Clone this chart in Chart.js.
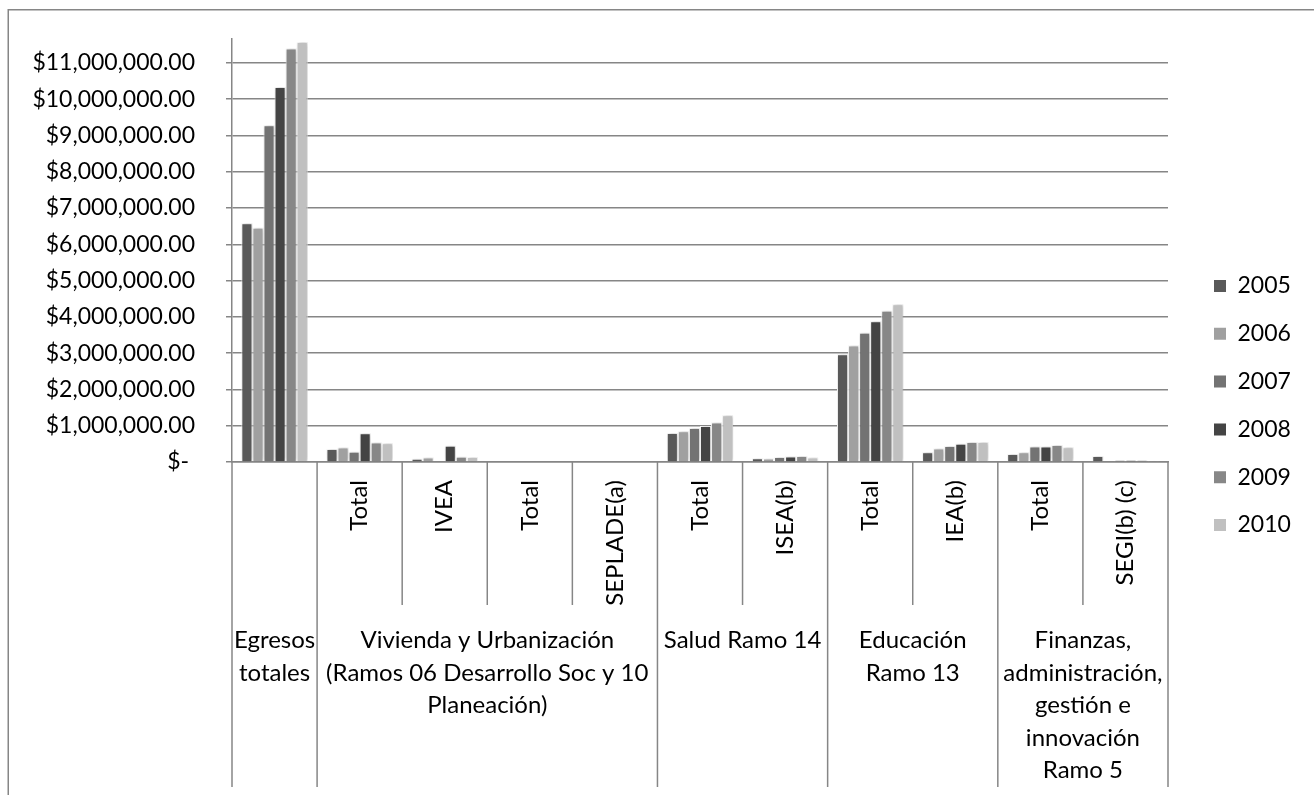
<!DOCTYPE html>
<html lang="es">
<head>
<meta charset="utf-8">
<title>Egresos por ramo, 2005–2010</title>
<script src="https://cdn.jsdelivr.net/npm/chart.js@4.4.1/dist/chart.umd.min.js"></script>
<style>
  html, body { margin: 0; padding: 0; background: #fff; }
  canvas { display: block; }
</style>
</head>
<body>
<canvas id="chart" width="1314" height="795"></canvas>
<script>
// Second-level labels: one per cluster of bars
const subLabels = ['', 'Total', 'IVEA', 'Total', 'SEPLADE(a)', 'Total', 'ISEA(b)', 'Total', 'IEA(b)', 'Total', 'SEGI(b) (c)'];

// Top-level groups (text lines) and how many clusters each one covers
const groupNames = [
  ['Egresos', 'totales'],
  ['Vivienda y Urbanización', '(Ramos 06 Desarrollo Soc y 10', 'Planeación)'],
  ['Salud Ramo 14'],
  ['Educación', 'Ramo 13'],
  ['Finanzas,', 'administración,', 'gestión e', 'innovación', 'Ramo 5']
];
const groupSpans = [1, 4, 2, 2, 2];

// Series (pesos)
const years = ['2005', '2006', '2007', '2008', '2009', '2010'];
const egresos2005 = [6580000, 356000, 88000, null, null, 800000, 100000, 2970000, 270000, 220000, 163000];
const egresos2006 = [6460000, 400000, 127000, null, null, 850000, 95000, 3210000, 370000, 270000, 20000];
const egresos2007 = [9280000, 280000, null, null, null, 940000, 135000, 3560000, 440000, 430000, 45000];
const egresos2008 = [10340000, 790000, 447000, null, null, 990000, 155000, 3880000, 500000, 430000, 45000];
const egresos2009 = [11400000, 540000, 144000, null, null, 1090000, 163000, 4170000, 550000, 470000, 45000];
const egresos2010 = [11580000, 520000, 135000, null, null, 1290000, 127000, 4350000, 550000, 410000, 35000];
const seriesValues = [egresos2005, egresos2006, egresos2007, egresos2008, egresos2009, egresos2010];
const seriesColors = ['#595959', '#a0a0a0', '#737373', '#444444', '#878787', '#c0c0c0'];

// Value axis ticks
const yTickValues = [0, 1000000, 2000000, 3000000, 4000000, 5000000, 6000000, 7000000, 8000000, 9000000, 10000000, 11000000];
const yTickLabels = ['$- ', '$1,000,000.00', '$2,000,000.00', '$3,000,000.00', '$4,000,000.00', '$5,000,000.00',
  '$6,000,000.00', '$7,000,000.00', '$8,000,000.00', '$9,000,000.00', '$10,000,000.00', '$11,000,000.00'];
const yAxisMax = 11660000;

const FONT = 'Lato';
const TICK_SIZE = 23;
const CAT_SIZE = 24;
const LEGEND_SIZE = 23;
const LEGEND_PITCH = 47.8;
const LEGEND_BOX = 12;
const LINE_GRAY = '#868686';

// Legend placement: boxes start at x = 1214, plot area ends at x = 1168
const PLOT_RIGHT = 1168;
const LEGEND_BOX_X = 1214;
const legendPad = LEGEND_PITCH - LEGEND_SIZE;
const measureCtx = document.createElement('canvas').getContext('2d');
measureCtx.font = LEGEND_SIZE + 'px ' + FONT;
const legendTextW = Math.max(...years.map(y => measureCtx.measureText(y).width));
// a vertical legend adds 10px to the width of its column
const legendWidth = legendPad + LEGEND_BOX + LEGEND_SIZE / 2 + legendTextW + 10;
const legendLeft = LEGEND_BOX_X - legendPad;
const rightPad = 1314 - legendLeft - legendWidth;
const gapWidth = legendLeft - PLOT_RIGHT;

// Frame around the chart, separators and two-level labels of the category axis
const categoryAxisPlugin = {
  id: 'categoryAxis',
  beforeDraw(chart) {
    const ctx = chart.ctx;
    ctx.save();
    ctx.strokeStyle = LINE_GRAY;
    ctx.lineWidth = 1.5;
    ctx.strokeRect(8.25, 9.75, 2000, 2000);
    ctx.restore();
  },
  beforeDatasetsDraw(chart) {
    const ctx = chart.ctx;
    ctx.save();
    ctx.shadowColor = 'rgba(0,0,0,0.28)';
    ctx.shadowBlur = 4;
    ctx.shadowOffsetX = 1;
    ctx.shadowOffsetY = 0;
  },
  afterDatasetsDraw(chart) {
    chart.ctx.restore();
  },
  afterDraw(chart) {
    const { ctx, chartArea, scales: { x } } = chart;
    const step = x.getPixelForValue(1) - x.getPixelForValue(0);
    const top = chartArea.bottom;
    const subBottom = top + 143;
    const groupBottom = top + 325;

    const groupEdges = new Set([0]);
    let acc = 0;
    groupSpans.forEach(s => { acc += s; groupEdges.add(acc); });

    ctx.save();
    ctx.strokeStyle = LINE_GRAY;
    ctx.lineWidth = 1.5;
    for (let i = 0; i <= subLabels.length; i++) {
      const px = x.getPixelForValue(0) - step / 2 + i * step;
      const bottom = groupEdges.has(i) ? groupBottom : subBottom;
      ctx.beginPath();
      ctx.moveTo(px, top);
      ctx.lineTo(px, bottom);
      ctx.stroke();
    }

    ctx.fillStyle = '#000';
    ctx.font = CAT_SIZE + 'px ' + FONT;
    subLabels.forEach((t, i) => {
      if (!t) return;
      ctx.save();
      ctx.translate(x.getPixelForValue(i), top + 18);
      ctx.rotate(-Math.PI / 2);
      ctx.textAlign = 'right';
      ctx.textBaseline = 'middle';
      ctx.fillText(t, 0, 0);
      ctx.restore();
    });

    let start = 0;
    groupNames.forEach((lines, g) => {
      const end = start + groupSpans[g] - 1;
      const cx = (x.getPixelForValue(start) + x.getPixelForValue(end)) / 2;
      ctx.textAlign = 'center';
      ctx.textBaseline = 'alphabetic';
      lines.forEach((l, k) => ctx.fillText(l, cx, top + 186 + k * 32.6));
      start += groupSpans[g];
    });
    ctx.restore();
  }
};

const datasets = years.map((yr, i) => ({
  label: yr,
  data: seriesValues[i],
  backgroundColor: seriesColors[i],
  borderColor: '#ffffff',
  borderWidth: 1,
  barPercentage: 1,
  categoryPercentage: 0.78
}));

new Chart(document.getElementById('chart'), {
  type: 'bar',
  data: { labels: subLabels, datasets },
  plugins: [categoryAxisPlugin],
  options: {
    responsive: false,
    animation: false,
    devicePixelRatio: 1,
    layout: { padding: { top: 39, left: 0, right: rightPad, bottom: 23 } },
    plugins: {
      tooltip: { enabled: false },
      legend: {
        position: 'right',
        labels: {
          boxWidth: LEGEND_BOX,
          boxHeight: LEGEND_BOX,
          padding: legendPad,
          color: '#000',
          font: { family: FONT, size: LEGEND_SIZE },
          generateLabels(chart) {
            return Chart.defaults.plugins.legend.labels.generateLabels(chart)
              .map(item => Object.assign(item, { lineWidth: 0, strokeStyle: 'transparent' }));
          }
        }
      }
    },
    scales: {
      x: {
        type: 'category',
        grid: { display: false },
        ticks: { display: false },
        border: { display: true, color: LINE_GRAY, width: 1.5 },
        afterFit(scale) { scale.height = 310; }
      },
      y: {
        type: 'linear',
        min: 0,
        max: yAxisMax,
        ticks: {
          stepSize: 1000000,
          padding: 31,
          color: '#000',
          font: { family: FONT, size: TICK_SIZE },
          callback(value) {
            const idx = yTickValues.indexOf(value);
            return idx >= 0 ? yTickLabels[idx] : '';
          }
        },
        afterBuildTicks(scale) {
          scale.ticks = yTickValues.map(v => ({ value: v }));
        },
        grid: { color: LINE_GRAY, lineWidth: 1.5, tickLength: 6, drawTicks: true },
        border: { display: true, color: LINE_GRAY, width: 1.5 },
        afterFit(scale) {
          scale.width = 232;
          scale.paddingTop = 0;
          scale.paddingBottom = 0;
        }
      },
      gap: {
        type: 'linear',
        position: 'right',
        display: true,
        grid: { display: false },
        border: { display: false },
        ticks: { display: false },
        afterFit(scale) { scale.width = gapWidth; }
      }
    }
  }
});
</script>
</body>
</html>
